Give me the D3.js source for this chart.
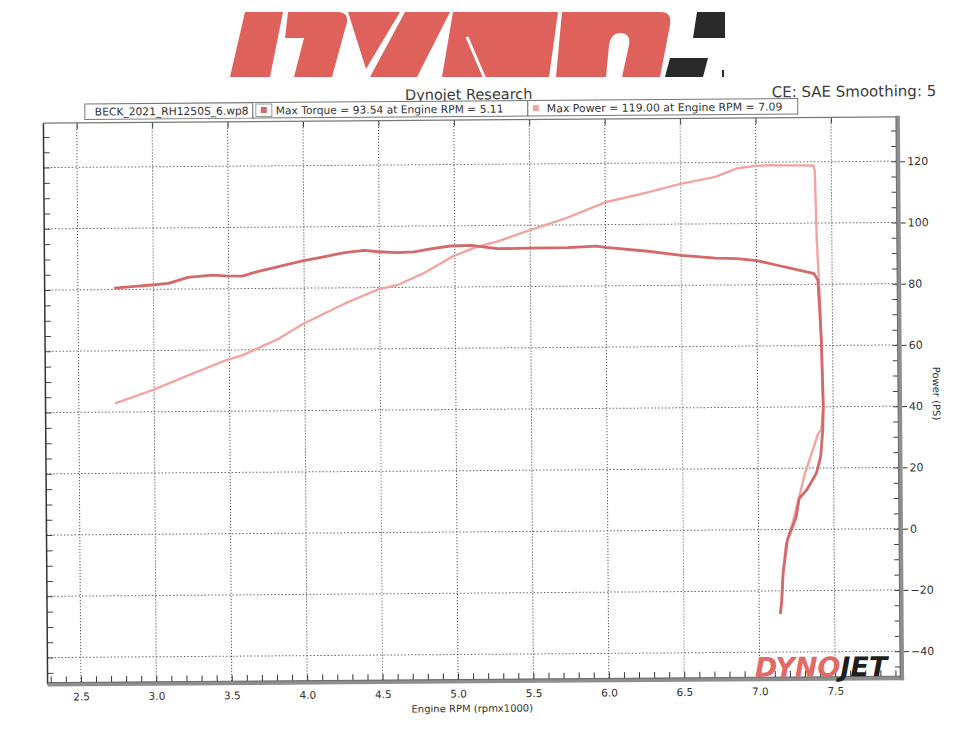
<!DOCTYPE html>
<html><head><meta charset="utf-8">
<script src="https://cdn.jsdelivr.net/npm/d3@7"></script>
<style>body{margin:0;background:#fff}svg{display:block}</style>
</head><body><svg id="c" width="975" height="750"></svg>
<script>
// ---- data ----
const rpmTorque = [2.74,2.86,2.99,3.10,3.23,3.39,3.48,3.59,3.69,3.83,3.99,4.13,4.27,4.40,4.49,4.62,4.73,4.84,4.97,5.11,5.28,5.50,5.75,5.94,6.00,6.28,6.50,6.73,6.87,7.00,7.13,7.28,7.38,7.405,7.415,7.425,7.43,7.435,7.43,7.415,7.385,7.32,7.27,7.25,7.19,7.16,7.15,7.14];
const torque    = [80.5,80.9,81.4,81.9,83.8,84.5,84.2,84.1,85.5,87.1,88.9,90.2,91.5,92.2,91.7,91.4,91.6,92.5,93.4,93.54,92.4,92.5,92.6,93.0,92.6,91.2,89.8,88.8,88.6,87.9,86.4,84.7,83.5,81.4,72.6,61.8,51.0,40.0,32.4,23.7,18.2,12.8,10.1,4.1,-3.5,-14.4,-23.1,-27.5];
const rpmPower  = [2.74,2.99,3.23,3.48,3.59,3.83,3.99,4.27,4.49,4.62,4.79,4.99,5.15,5.28,5.50,5.74,6.00,6.28,6.50,6.73,6.87,7.00,7.09,7.20,7.38,7.39,7.40,7.42,7.43,7.435,7.42,7.40,7.31,7.27,7.23,7.18,7.16,7.15,7.14];
const power     = [42.8,47.1,51.9,56.7,58.3,63.6,68.3,74.9,79.4,80.8,84.5,90.1,93.1,94.7,98.4,102.2,107.3,110.4,113.1,115.3,118.0,118.8,119.0,118.9,118.8,117.3,94.4,72.6,50.8,39.8,32.4,31.3,18.2,10.6,3.0,-5.0,-14.4,-23.1,-27.5];
const xTicks = [2.5,3.0,3.5,4.0,4.5,5.0,5.5,6.0,6.5,7.0,7.5];
const xMinor = d3.range(23,80,1).map(d=>d/10);
const yTicks = [-40,-20,0,20,40,60,80,100,120];
const yMinor = d3.range(-45,131,5);
const legendFile = "BECK_2021_RH1250S_6.wp8";
const legendTorque = "Max Torque = 93.54 at Engine RPM = 5.11";
const legendPower = "Max Power = 119.00 at Engine RPM = 7.09";
const headerTitle = "Dynojet Research";
const headerRight = "CE: SAE Smoothing: 5";
const xTitle = "Engine RPM (rpmx1000)";
const yTitleRight = "Power (PS)";

const FONT = "'DejaVu Sans', Verdana, sans-serif";
const svg = d3.select("#c");
svg.append("rect").attr("width",975).attr("height",750).attr("fill","#fff");

// ---- big header logo ----
const logo = svg.append("g");
const red = "#de615b";
[
 "M245,12 L283,12 L270,77 L230,77 Z",
 "M288,12 L338,12 Q348,12 347,22 L332,77 L294,77 L304,38 L285,38 Z",
 "M348,12 L400,12 L366,69 Z",
 "M405,12 L450,12 L417,77 L370,77 Z",
 "M453,12 L558,12 L549,77 L442,77 Z",
 "M562,12 L661,12 Q672,12 670,25 L660,77 L622,77 L629,45 Q631,33 620,33 Q611,33 609,45 L606,77 L556,77 Z"
].forEach(p=>logo.append("path").attr("d",p).attr("fill",red));
logo.append("line").attr("x1",467).attr("y1",37).attr("x2",485).attr("y2",79).attr("stroke","#fff").attr("stroke-width",3);
logo.append("path").attr("d","M697,12 L725,12 L725,38 L693,38 Z").attr("fill","#2a2a2a");
logo.append("path").attr("d","M670,58 L708,58 L703,77 L665,77 Z").attr("fill","#2a2a2a");
logo.append("rect").attr("x",722).attr("y",70).attr("width",2).attr("height",7).attr("fill","#2a2a2a");

// ---- chart (scanned page slightly rotated) ----
const g = svg.append("g").attr("transform","rotate(-0.43,470,400)");
const x = d3.scaleLinear().domain([2.5,7.5]).range([78.8,833.05]);
const y = d3.scaleLinear().domain([0,120]).range([531.9,164.4]);
const L = 45.5, R = 900, T = 120, B = 681.4;

// header texts
g.append("text").attr("x",471).attr("y",99.5).attr("text-anchor","middle")
 .attr("font-family",FONT).attr("font-size",14.5).attr("fill","#3a3a3a").text(headerTitle);
g.append("text").attr("x",774).attr("y",99.5)
 .attr("font-family",FONT).attr("font-size",15).attr("fill","#3a3a3a").text(headerRight);

// grid
g.append("g").selectAll("line").data(xTicks).join("line")
 .attr("x1",d=>x(d)).attr("x2",d=>x(d)).attr("y1",T).attr("y2",B)
 .attr("stroke","#555").attr("stroke-width",1).attr("stroke-dasharray","1.2,1.8");
g.append("g").selectAll("line").data(yTicks).join("line")
 .attr("x1",L).attr("x2",R).attr("y1",d=>y(d)).attr("y2",d=>y(d))
 .attr("stroke","#666").attr("stroke-width",1).attr("stroke-dasharray","1.5,2");

function styleAxis(sel, col){
  sel.select(".domain").remove();
  sel.selectAll(".tick line").attr("stroke",col||"#333");
  sel.selectAll("text").attr("font-family",FONT).attr("fill","#333");
}
// top ticks
g.append("g").attr("transform",`translate(0,${T})`)
 .call(d3.axisTop(x).tickValues(xTicks).tickSize(-6).tickFormat(""))
 .call(s=>styleAxis(s,"#444"));
// bottom minor ticks
g.append("g").attr("transform",`translate(0,${B-2})`)
 .call(d3.axisBottom(x).tickValues(xMinor).tickSize(-6).tickFormat(""))
 .call(s=>styleAxis(s,"#333"));
// bottom labels
g.append("g").attr("transform",`translate(0,${B})`)
 .call(d3.axisBottom(x).tickValues(xTicks).tickSize(0).tickPadding(8.6).tickFormat(d3.format(".1f")))
 .call(s=>styleAxis(s)).call(s=>s.selectAll("text").attr("font-size",10.5));
// right axis
g.append("g").attr("transform",`translate(${R+2},0)`)
 .call(d3.axisRight(y).tickValues(yTicks).tickSize(5).tickPadding(2))
 .call(s=>styleAxis(s,"#333")).call(s=>s.selectAll("text").attr("font-size",11));
g.append("g").attr("transform",`translate(${R-2},0)`)
 .call(d3.axisRight(y).tickValues(yMinor).tickSize(-5).tickFormat(""))
 .call(s=>styleAxis(s,"#444"));
// left axis (labels cut off by the scan)
g.append("clipPath").attr("id","lc").append("rect").attr("x",35).attr("y",100).attr("width",20).attr("height",600);
g.append("g").attr("transform",`translate(${L},0)`).attr("clip-path","url(#lc)")
 .call(d3.axisLeft(y).tickValues(yTicks).tickSize(7).tickPadding(1))
 .call(s=>styleAxis(s,"#333")).call(s=>s.selectAll("text").attr("font-size",11));
g.append("g").attr("transform",`translate(${L},0)`)
 .call(d3.axisLeft(y).tickValues(yMinor).tickSize(-6).tickFormat(""))
 .call(s=>styleAxis(s,"#444"));

// frame
g.append("line").attr("x1",L).attr("x2",R).attr("y1",T).attr("y2",T).attr("stroke","#777").attr("stroke-width",1.2);
g.append("line").attr("x1",L).attr("x2",L).attr("y1",T).attr("y2",B).attr("stroke","#333").attr("stroke-width",1.5);
g.append("line").attr("x1",L).attr("x2",R+2).attr("y1",B).attr("y2",B).attr("stroke","#8e8e8e").attr("stroke-width",4);
g.append("line").attr("x1",L).attr("x2",R).attr("y1",B-2).attr("y2",B-2).attr("stroke","#555").attr("stroke-width",0.8);
g.append("line").attr("x1",R).attr("x2",R).attr("y1",T-1).attr("y2",B+2).attr("stroke","#8e8e8e").attr("stroke-width",4);
g.append("line").attr("x1",R-2).attr("x2",R-2).attr("y1",T).attr("y2",B).attr("stroke","#555").attr("stroke-width",0.8);

// axis titles
g.append("text").attr("x",470).attr("y",712).attr("text-anchor","middle")
 .attr("font-family",FONT).attr("font-size",10).attr("fill","#333").text(xTitle);
g.append("text").attr("transform","translate(933,397) rotate(90)").attr("text-anchor","middle")
 .attr("font-family",FONT).attr("font-size",10).attr("fill","#333").text(yTitleRight);

// DYNOJET logo
const dj = g.append("text").attr("x",753).attr("y",679).attr("font-family",FONT)
 .attr("font-size",27).attr("font-weight","bold").attr("font-style","italic").attr("letter-spacing",0);
dj.append("tspan").attr("fill","#e26a66").text("DYNO");
dj.append("tspan").attr("fill","#1e1e1e").text("JET");

// curves
const lineGen = d3.line().x(d=>x(d[0])).y(d=>y(d[1]));
g.append("path").datum(rpmPower.map((r,i)=>[r,power[i]])).attr("d",lineGen)
 .attr("fill","none").attr("stroke","#f2a4a4").attr("stroke-width",2.4).attr("stroke-linejoin","round");
g.append("path").datum(rpmTorque.map((r,i)=>[r,torque[i]])).attr("d",lineGen)
 .attr("fill","none").attr("stroke","#d4696a").attr("stroke-width",2.8).attr("stroke-linejoin","round");

// legend
const lg = g.append("g").attr("font-family",FONT).attr("font-size",10.7).attr("fill","#333");
function box(x0,x1){ lg.append("rect").attr("x",x0).attr("y",101).attr("width",x1-x0).attr("height",15.5)
  .attr("fill","#fff").attr("stroke","#777").attr("stroke-width",1); }
box(87,255); box(255,530); box(530,800);
lg.append("rect").attr("x",258).attr("y",102.5).attr("width",16).attr("height",12.5).attr("fill","none").attr("stroke","#999");
lg.append("rect").attr("x",263).attr("y",105.5).attr("width",6).attr("height",6).attr("fill","#d4696a");
lg.append("rect").attr("x",535).attr("y",105.5).attr("width",6).attr("height",6).attr("fill","#f2a4a4");
lg.append("text").attr("x",97).attr("y",112.8).text(legendFile);
lg.append("text").attr("x",278).attr("y",112.8).text(legendTorque);
lg.append("text").attr("x",549).attr("y",112.8).attr("font-size",10.9).text(legendPower);
</script></body></html>
